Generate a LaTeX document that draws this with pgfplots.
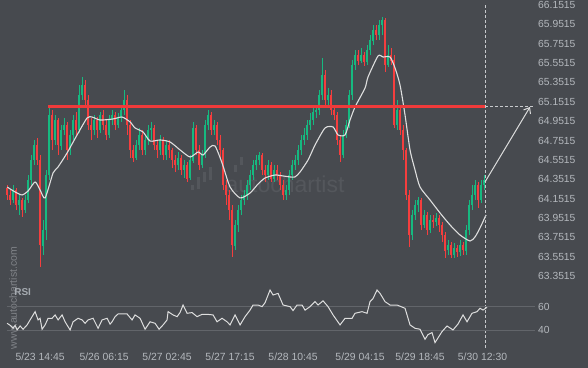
\documentclass[border=0pt]{standalone}
\usepackage{fontspec}
\setmainfont{Liberation Sans}
\usepackage{pgfplots}
\pgfplotsset{compat=1.18}
\usepackage{pgfplotstable}
\usetikzlibrary{arrows.meta}
\definecolor{bg}{RGB}{71,74,79}
\definecolor{cgreen}{RGB}{22,185,128}
\definecolor{cred}{RGB}{245,62,62}
\definecolor{redline}{RGB}{240,58,58}
\definecolor{maline}{RGB}{222,222,222}
\definecolor{lbl}{RGB}{180,184,189}
\definecolor{gridc}{RGB}{98,101,106}
\definecolor{wm}{RGB}{128,131,136}
\definecolor{wmfaint}{RGB}{84,87,92}
\definecolor{dashc}{RGB}{200,202,205}

\pgfplotstableread{
x o h l c
13 64.137 64.292 64.106 64.240
19 64.085 64.189 63.982 64.137
25 64.034 64.189 64.003 64.137
28 64.137 64.395 64.106 64.344
31 64.344 64.602 64.292 64.550
34 64.550 64.757 64.499 64.705
43 63.672 63.930 63.569 63.827
46 63.827 64.447 63.724 64.395
49 64.395 65.098 64.344 65.015
55 64.757 65.015 64.705 64.963
61 64.705 64.912 64.654 64.860
64 64.860 64.984 64.809 64.912
70 64.654 64.860 64.602 64.809
73 64.809 65.015 64.757 64.963
79 64.860 65.325 64.829 65.222
82 65.222 65.408 65.170 65.325
94 64.860 65.015 64.809 64.963
100 64.860 65.046 64.829 65.015
109 64.809 65.015 64.778 64.963
112 64.963 65.067 64.912 65.015
118 64.912 65.036 64.881 64.984
121 64.984 65.118 64.943 65.067
124 65.067 65.273 65.015 65.170
136 64.571 64.757 64.550 64.705
139 64.705 64.881 64.654 64.809
145 64.654 64.809 64.602 64.757
148 64.757 64.912 64.705 64.860
151 64.860 64.943 64.757 64.881
160 64.654 64.809 64.602 64.757
166 64.602 64.757 64.550 64.705
178 64.499 64.633 64.447 64.571
184 64.447 64.550 64.364 64.499
190 64.364 64.602 64.344 64.550
193 64.550 64.943 64.519 64.881
202 64.499 64.654 64.468 64.602
205 64.602 64.963 64.571 64.912
208 64.912 65.067 64.860 65.015
214 64.860 64.963 64.809 64.912
235 63.672 63.930 63.620 63.879
238 63.879 64.085 63.806 64.034
241 64.034 64.189 63.982 64.137
244 64.137 64.240 64.085 64.189
247 64.189 64.344 64.137 64.292
250 64.292 64.447 64.240 64.395
253 64.395 64.550 64.344 64.499
256 64.499 64.602 64.447 64.550
259 64.550 64.633 64.499 64.602
268 64.395 64.550 64.344 64.499
274 64.364 64.499 64.323 64.447
286 64.189 64.292 64.137 64.240
289 64.240 64.447 64.189 64.395
292 64.395 64.550 64.344 64.499
295 64.499 64.602 64.447 64.550
298 64.550 64.705 64.499 64.654
301 64.654 64.809 64.602 64.757
304 64.757 64.881 64.705 64.809
307 64.809 64.963 64.757 64.912
310 64.912 65.036 64.860 64.963
313 64.963 65.098 64.912 65.046
316 65.046 65.118 64.984 65.067
319 65.067 65.273 65.015 65.222
322 65.222 65.604 65.170 65.428
328 65.170 65.294 65.118 65.222
343 64.602 64.860 64.571 64.809
346 64.809 64.963 64.778 64.912
349 64.912 65.273 64.881 65.222
352 65.222 65.583 65.170 65.532
355 65.532 65.687 65.480 65.635
361 65.583 65.707 65.552 65.635
367 65.563 65.738 65.532 65.687
370 65.687 65.842 65.635 65.790
373 65.790 65.945 65.738 65.893
379 65.842 65.997 65.790 65.945
382 65.945 66.028 65.842 65.997
388 65.532 65.738 65.511 65.635
397 64.912 65.170 64.860 65.067
412 63.775 64.034 63.724 63.982
415 63.982 64.137 63.930 64.085
418 64.085 64.168 64.013 64.137
424 63.879 64.034 63.848 63.982
430 63.827 63.982 63.796 63.930
436 63.910 64.003 63.868 63.951
448 63.620 63.724 63.569 63.672
454 63.569 63.693 63.538 63.641
460 63.600 63.724 63.558 63.672
466 63.620 63.879 63.569 63.827
469 63.827 64.137 63.775 64.085
472 64.085 64.292 64.034 64.189
475 64.189 64.344 64.137 64.292
481 64.137 64.344 64.106 64.292
484 64.292 64.395 64.240 64.344
}\upcandles

\pgfplotstableread{
x o h l c
7 64.261 64.292 64.137 64.189
10 64.189 64.240 64.085 64.137
16 64.240 64.261 64.034 64.085
22 64.137 64.158 63.961 64.034
37 64.705 64.778 64.499 64.550
40 64.550 64.602 63.445 63.672
52 65.015 65.067 64.654 64.757
58 64.963 64.984 64.602 64.705
67 64.912 64.943 64.550 64.654
76 64.963 65.046 64.809 64.860
85 65.325 65.377 65.118 65.170
88 65.170 65.222 64.860 64.912
91 64.912 64.984 64.757 64.860
97 64.963 64.994 64.778 64.860
103 65.015 65.067 64.860 64.912
106 64.912 64.963 64.757 64.809
115 65.015 65.046 64.860 64.912
127 65.170 65.222 64.809 64.912
130 64.912 64.963 64.571 64.654
133 64.654 64.705 64.530 64.571
142 64.809 64.860 64.602 64.654
154 64.881 64.912 64.654 64.705
157 64.705 64.757 64.571 64.654
163 64.757 64.788 64.550 64.602
169 64.705 64.757 64.571 64.654
172 64.654 64.674 64.468 64.550
175 64.550 64.602 64.426 64.499
181 64.571 64.602 64.395 64.447
187 64.499 64.530 64.323 64.364
196 64.881 64.912 64.602 64.654
199 64.654 64.705 64.447 64.499
211 65.015 65.046 64.809 64.860
217 64.912 64.943 64.705 64.757
220 64.757 64.809 64.571 64.654
223 64.654 64.674 64.240 64.292
226 64.292 64.344 64.085 64.189
229 64.189 64.240 63.930 64.034
232 64.034 64.085 63.548 63.672
262 64.602 64.623 64.395 64.447
265 64.447 64.499 64.323 64.395
271 64.499 64.530 64.323 64.364
277 64.447 64.499 64.344 64.395
280 64.395 64.426 64.240 64.292
283 64.292 64.344 64.137 64.189
325 65.428 65.480 65.118 65.170
331 65.222 65.273 65.015 65.067
334 65.067 65.118 64.963 65.015
337 65.015 65.046 64.705 64.757
340 64.757 64.809 64.530 64.602
358 65.635 65.687 65.532 65.583
364 65.635 65.666 65.521 65.563
376 65.893 65.945 65.790 65.842
385 65.997 66.017 65.459 65.532
391 65.635 65.707 65.532 65.583
394 65.583 65.635 64.881 64.912
400 65.067 65.118 64.809 64.860
403 64.860 64.912 64.550 64.654
406 64.654 64.674 64.137 64.189
409 64.189 64.240 63.651 63.775
421 64.137 64.158 63.827 63.879
427 63.982 64.013 63.775 63.827
433 63.930 63.982 63.848 63.910
439 63.951 63.982 63.806 63.879
442 63.879 63.910 63.703 63.775
445 63.775 63.806 63.538 63.620
451 63.672 63.703 63.538 63.569
457 63.641 63.672 63.548 63.600
463 63.672 63.703 63.569 63.620
478 64.292 64.323 64.054 64.137
}\downcandles

\pgfplotsset{candle/.style={draw=none, mark=none, forget plot,
  error bars/.cd, y dir=both, y explicit, error mark=none}}

\begin{document}
\begin{tikzpicture}[x=1pt,y=1pt]
\fill[bg] (0,0) rectangle (588,368);
% watermarks
\node[rotate=90, text=wm, font=\fontsize{10.5}{12}\selectfont, inner sep=0pt] at (13,70) {www.autochartist.com};
\node[text=wmfaint, font=\fontsize{23}{26}\selectfont, inner sep=0pt] at (285,184) {autochartist};
\fill[wmfaint] (191,178) rectangle (194,183);
\fill[wmfaint] (197,179) rectangle (200,191);
\fill[wmfaint] (203,186) rectangle (206,196);
\fill[wmfaint] (209,188) rectangle (212,201);
\fill[wmfaint] (234,196) rectangle (237,203);
\fill[wmfaint] (240,203) rectangle (243,211);

\begin{axis}[
  at={(0pt,88pt)}, anchor=south west, scale only axis,
  width=533pt, height=280pt,
  xmin=0, xmax=533, ymin=63.3105, ymax=66.2032,
  axis line style={draw=none}, major tick length=0pt,
  xtick=\empty,
  ytick={63.3515,63.5515,63.7515,63.9515,64.1515,64.3515,64.5515,64.7515,64.9515,65.1515,65.3515,65.5515,65.7515,65.9515,66.1515},
  yticklabels={63.3515,63.5515,63.7515,63.9515,64.1515,64.3515,64.5515,64.7515,64.9515,65.1515,65.3515,65.5515,65.7515,65.9515,66.1515},
  yticklabel pos=right,
  yticklabel style={anchor=west, inner sep=0pt, xshift=5pt, text=lbl, font=\fontsize{10.3}{12}\selectfont},
  clip=false]
% wicks and bodies
\addplot[candle, error bar style={draw=cgreen, line width=0.8pt}]
  table[x=x, y expr={(\thisrow{h}+\thisrow{l})/2}, y error expr={(\thisrow{h}-\thisrow{l})/2}] {\upcandles};
\addplot[candle, error bar style={draw=cgreen, line width=2pt}]
  table[x=x, y expr={(\thisrow{o}+\thisrow{c})/2}, y error expr={abs(\thisrow{c}-\thisrow{o})/2+0.004}] {\upcandles};
\addplot[candle, error bar style={draw=cred, line width=0.8pt}]
  table[x=x, y expr={(\thisrow{h}+\thisrow{l})/2}, y error expr={(\thisrow{h}-\thisrow{l})/2}] {\downcandles};
\addplot[candle, error bar style={draw=cred, line width=2pt}]
  table[x=x, y expr={(\thisrow{o}+\thisrow{c})/2}, y error expr={abs(\thisrow{c}-\thisrow{o})/2+0.004}] {\downcandles};
% moving average
\addplot[maline, line width=1.1pt, smooth, tension=0.4] coordinates {
(7,64.271) (15,64.220) (22,64.189) (28,64.230) (35,64.323) (40,64.240) (45,64.158)
(53,64.416) (58,64.478) (67,64.623) (77,64.809) (87,64.984) (92,64.994) (100,64.963)
(113,64.974) (122,64.994) (130,64.943) (135,64.881) (143,64.839) (150,64.746) (160,64.757)
(170,64.736) (180,64.654) (190,64.581) (198,64.633) (203,64.602) (210,64.684) (215,64.695)
(222,64.519) (230,64.271) (240,64.158) (250,64.209) (258,64.302) (265,64.364) (275,64.395)
(283,64.385) (290,64.375) (295,64.375) (300,64.426) (308,64.550) (315,64.705) (325,64.881)
(333,64.891) (338,64.809) (345,64.809) (350,64.963) (355,65.098) (365,65.294) (368,65.408)
(378,65.625) (383,65.614) (390,65.614) (395,65.501) (400,65.325) (405,65.015) (410,64.654)
(415,64.447) (420,64.271) (430,64.137) (440,64.003) (450,63.879) (460,63.775) (470,63.713)
(475,63.755) (480,63.848) (486,63.982)};
% resistance line
\addplot[redline, line width=2.6pt] coordinates {(48,65.100) (485,65.100)};
\addplot[dashc, line width=0.8pt, dash pattern=on 3pt off 2pt] coordinates {(485,65.100) (533,65.100)};
\draw[dashc, line width=0.8pt, dash pattern=on 3pt off 2pt] (axis cs:485,66.1515) -- (axis cs:485,62.59);
% forecast arrow
\addplot[maline, line width=1pt, -{Straight Barb[length=5pt,width=8pt]}] coordinates {(485,64.323) (530,65.098)};
\end{axis}

\begin{axis}[
  at={(0pt,11pt)}, anchor=south west, scale only axis,
  width=533pt, height=75pt,
  xmin=0, xmax=533, ymin=16.8, ymax=81.2,
  axis line style={draw=none}, major tick length=0pt,
  ytick={40,60}, yticklabels={40,60},
  yticklabel pos=right,
  yticklabel style={anchor=west, inner sep=0pt, xshift=5pt, text=lbl, font=\fontsize{10.3}{12}\selectfont},
  xtick={40,104,167,230,293,360,420,482.5},
  xticklabels={5/23 14:45,5/26 06:15,5/27 02:45,5/27 17:15,5/28 10:45,5/29 04:15,5/29 18:45,5/30 12:30},
  xticklabel style={anchor=center, inner sep=0pt, text=lbl, font=\fontsize{10.4}{12}\selectfont},
  clip=false]
\draw[gridc, line width=0.8pt] (axis cs:7,60) -- (axis cs:535,60);
\draw[gridc, line width=0.8pt] (axis cs:7,40) -- (axis cs:535,40);
\addplot[maline, line width=1pt] coordinates {
(7,45.7) (10,44) (13,41.4) (15,44) (17,40) (20,43.4) (23,40.6) (27,44.3) (30,48.6) (35,55.7)
(38,48.6) (40,50) (42,40.6) (45,44.3) (48,50) (52,50) (55,52.9) (58,48.6) (62,52.9) (65,47)
(70,40) (73,47) (78,50) (82,48.6) (85,45.7) (88,48.6) (93,50) (98,41.4) (102,48.6) (107,50)
(110,45) (112,47) (115,51.4) (118,53.7) (127,53.7) (132,48.6) (135,52.9) (140,50) (145,40.6)
(150,47) (155,45.7) (159,40.6) (163,44.3) (167,48.6) (168,55.7) (173,52.9) (177,51.4) (180,55)
(183,61.4) (187,54.3) (192,54.9) (197,51.4) (202,53.4) (207,53.4) (213,52.9) (217,47) (222,50)
(227,47) (230,44.3) (235,52.9) (240,44.3) (245,51.4) (250,57.1) (253,61.4) (258,61.4) (262,60)
(265,63.4) (270,74.3) (273,70) (278,71.4) (283,61.4) (290,60) (293,56.6) (297,61.4) (302,61.4)
(305,57) (310,60) (315,64.3) (318,61.4) (323,65) (328,60) (333,52.9) (340,44.3) (345,50)
(352,50) (355,54.3) (362,55.7) (367,54.3) (370,64.3) (373,67) (377,74.3) (380,71.4) (385,64.3)
(390,61.4) (397,61.4) (405,58.6) (410,44.3) (415,41.4) (420,40.6) (425,32) (428,36) (432,37.7)
(435,29.1) (442,38.6) (447,43.4) (453,40) (458,45.1) (463,52.9) (467,47) (472,54.3) (477,55.7)
(480,58.6) (483,57.1) (487,59.4)};
\end{axis}
\node[anchor=west, inner sep=0pt, text=lbl!120, font=\bfseries\fontsize{10}{12}\selectfont] at (14,76) {RSI};
\end{tikzpicture}
\end{document}
